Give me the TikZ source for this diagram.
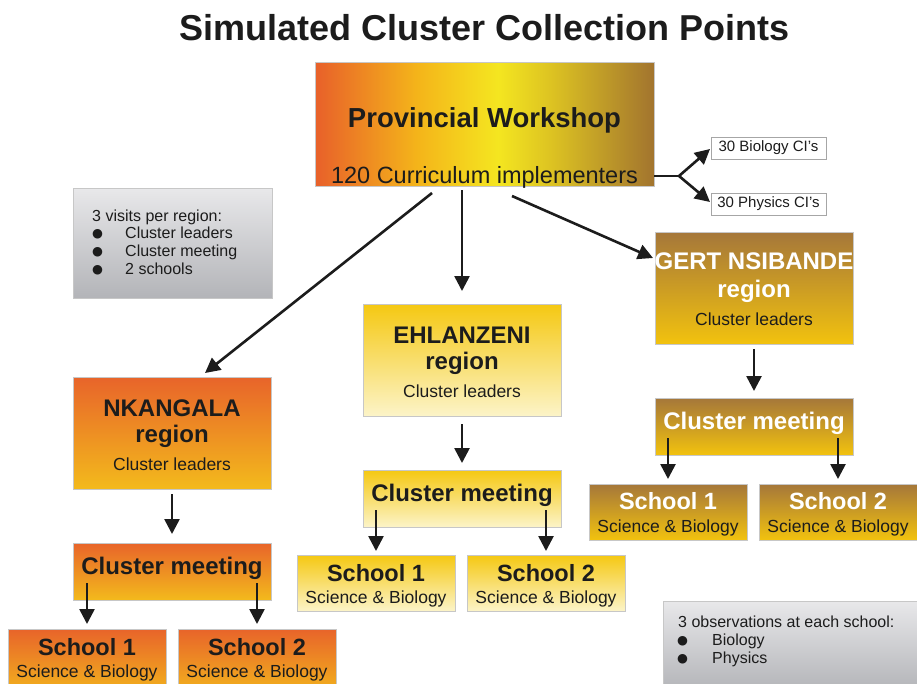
\documentclass[tikz,border=0pt]{standalone}
\usepackage{fontspec}
\setmainfont{Liberation Sans}
\newfontfamily\symfont{DejaVu Sans}
\usetikzlibrary{arrows.meta,calc}
\definecolor{txt}{HTML}{1C1C1C}
\definecolor{nkT}{HTML}{E8642A}
\definecolor{nkB}{HTML}{F3BA1C}
\definecolor{ehT}{HTML}{F5C812}
\definecolor{ehB}{HTML}{FCF4C8}
\definecolor{gnT}{HTML}{A5773A}
\definecolor{gnB}{HTML}{F2C20E}
\definecolor{grT}{HTML}{E8E8EA}
\definecolor{grB}{HTML}{B3B4B8}
\definecolor{provA}{HTML}{E8602A}
\definecolor{provB}{HTML}{F4B41A}
\definecolor{provC}{HTML}{F4E620}
\definecolor{provD}{HTML}{DCC222}
\definecolor{provE}{HTML}{A2742E}
\pgfdeclarehorizontalshading{provshade}{100bp}{color(0bp)=(provA); color(25bp)=(provA); color(40bp)=(provB); color(52bp)=(provC); color(60bp)=(provD); color(75bp)=(provE); color(100bp)=(provE)}
\newcommand{\bigbul}{\makebox[0pt][l]{\raisebox{0.8pt}{\symfont\fontsize{12.5}{14}\selectfont ●}}}
\begin{document}
\begin{tikzpicture}[x=1pt,y=-1pt,
  box/.style={draw=black!22, line width=0.5pt, anchor=north west, inner sep=0pt, outer sep=0pt},
  orangebox/.style={box, top color=nkT, bottom color=nkB},
  yellowbox/.style={box, top color=ehT, bottom color=ehB},
  brownbox/.style={box, top color=gnT, bottom color=gnB},
  greybox/.style={box, top color=grT, bottom color=grB},
  cibox/.style={box, fill=white, draw=black!35, minimum width=115pt, minimum height=22pt},
  regbox/.style={minimum width=198pt, minimum height=112pt},
  clbox/.style={minimum width=198pt, minimum height=57pt},
  schbox/.style={minimum width=158pt, minimum height=56pt},
  arr/.style={line width=2.6pt, draw=txt, -{Triangle[length=15pt,width=15pt]}},
  big/.style={anchor=base, text=txt, font=\fontsize{24}{28}\selectfont\bfseries},
  small/.style={anchor=base, text=txt, font=\fontsize{17.5}{20}\selectfont},
  sch/.style={anchor=base, text=txt, font=\fontsize{23.5}{26}\selectfont\bfseries},
  note/.style={anchor=base west, text=txt, inner sep=0pt, font=\fontsize{16}{18}\selectfont},
  ci/.style={text=txt, font=\fontsize{15}{17}\selectfont}
]
\useasboundingbox[fill=white] (0,0) rectangle (917,683);

% title
\node[anchor=base, text=txt, font=\fontsize{36}{40}\selectfont\bfseries] (title) at (484.5,40) {Simulated Cluster Collection Points};

% provincial workshop
\node[box, shading=provshade, minimum width=339pt, minimum height=124pt] (pw) at (315,62) {};
\node[anchor=base, text=txt, font=\fontsize{27.5}{30}\selectfont\bfseries] (pwt) at ($(pw.north)+(0,65)$) {Provincial Workshop};
\node[anchor=base, text=txt, font=\fontsize{23.5}{26}\selectfont] (pws) at ($(pw.north)+(0,121)$) {120 Curriculum implementers};

% CI boxes
\node[cibox] (bio) at (711,137) {};
\node[ci] at (bio.center) {30 Biology CI's};
\node[cibox] (phy) at (711,193) {};
\node[ci] at (phy.center) {30 Physics CI's};
\coordinate (br) at (679,176);
\draw[line width=2.6pt, draw=txt] (pw.east |- br) -- (br);
\draw[arr] (br) -- ($(bio.west)+(-1,1)$);
\draw[arr] (br) -- ($(phy.west)+(-1,-2)$);

% visits note
\node[greybox, minimum width=199pt, minimum height=110pt] (visits) at (73,188) {};
\node[note] at (92,221) {3 visits per region:};
\node[note] at (92,238) {\bigbul\hspace{33pt}Cluster leaders};
\node[note] at (92,256) {\bigbul\hspace{33pt}Cluster meeting};
\node[note] at (92,274) {\bigbul\hspace{33pt}2 schools};

% observations note
\node[greybox, minimum width=260pt, minimum height=90pt] (obs) at (663,601) {};
\node[note] at (678,627) {3 observations at each school:};
\node[note] at (677,645) {\bigbul\hspace{35pt}Biology};
\node[note] at (677,663) {\bigbul\hspace{35pt}Physics};

% NKANGALA column
\node[orangebox, regbox] (nk) at (73,377) {};
\node[big] at ($(nk.north)+(0,39)$) {NKANGALA};
\node[big] at ($(nk.north)+(0,65)$) {region};
\node[small] at ($(nk.north)+(0,93)$) {Cluster leaders};
\node[orangebox, clbox] (nkc) at (73,543) {};
\node[big] at ($(nkc.north)+(0,31)$) {Cluster meeting};
\node[orangebox, schbox, minimum height=70pt] (nks1) at (8,629) {};
\node[sch] at ($(nks1.north)+(0,26)$) {School 1};
\node[small] at ($(nks1.north)+(0,48)$) {Science \& Biology};
\node[orangebox, schbox, minimum height=70pt] (nks2) at (178,629) {};
\node[sch] at ($(nks2.north)+(0,26)$) {School 2};
\node[small] at ($(nks2.north)+(0,48)$) {Science \& Biology};
\draw[arr] ($(nk.south)+(0,5)$) -- ($(nkc.north)+(0,-9)$);
\draw[arr] ($(nks1.north |- nkc.center)+(0,11.5)$) -- ($(nks1.north)+(0,-5)$);
\draw[arr] ($(nks2.north |- nkc.center)+(0,11.5)$) -- ($(nks2.north)+(0,-5)$);

% EHLANZENI column
\node[yellowbox, regbox] (eh) at (363,304) {};
\node[big] at ($(eh.north)+(0,39)$) {EHLANZENI};
\node[big] at ($(eh.north)+(0,65)$) {region};
\node[small] at ($(eh.north)+(0,93)$) {Cluster leaders};
\node[yellowbox, clbox] (ehc) at (363,470) {};
\node[big] at ($(ehc.north)+(0,31)$) {Cluster meeting};
\node[yellowbox, schbox] (ehs1) at (297,555) {};
\node[sch] at ($(ehs1.north)+(0,26)$) {School 1};
\node[small] at ($(ehs1.north)+(0,48)$) {Science \& Biology};
\node[yellowbox, schbox] (ehs2) at (467,555) {};
\node[sch] at ($(ehs2.north)+(0,26)$) {School 2};
\node[small] at ($(ehs2.north)+(0,48)$) {Science \& Biology};
\draw[arr] ($(eh.south)+(0,8)$) -- ($(ehc.north)+(0,-7)$);
\draw[arr] ($(ehs1.north |- ehc.center)+(0,11.5)$) -- ($(ehs1.north)+(0,-4)$);
\draw[arr] ($(ehs2.north |- ehc.center)+(0,11.5)$) -- ($(ehs2.north)+(0,-4)$);

% GERT NSIBANDE column
\node[brownbox, regbox] (gn) at (655,232) {};
\node[big, text=white] at ($(gn.north)+(0,37)$) {GERT NSIBANDE};
\node[big, text=white] at ($(gn.north)+(0,65)$) {region};
\node[small] at ($(gn.north)+(0,93)$) {Cluster leaders};
\node[brownbox, clbox] (gnc) at (655,398) {};
\node[big, text=white] at ($(gnc.north)+(0,31)$) {Cluster meeting};
\node[brownbox, schbox] (gns1) at (589,484) {};
\node[sch, text=white] at ($(gns1.north)+(0,25)$) {School 1};
\node[small] at ($(gns1.north)+(0,48)$) {Science \& Biology};
\node[brownbox, schbox] (gns2) at (759,484) {};
\node[sch, text=white] at ($(gns2.north)+(0,25)$) {School 2};
\node[small] at ($(gns2.north)+(0,48)$) {Science \& Biology};
\draw[arr] ($(gn.south)+(0,5)$) -- ($(gnc.north)+(0,-7)$);
\draw[arr] ($(gns1.north |- gnc.center)+(0,11.5)$) -- ($(gns1.north)+(0,-5)$);
\draw[arr] ($(gns2.north |- gnc.center)+(0,11.5)$) -- ($(gns2.north)+(0,-5)$);

% arrows from provincial workshop
\draw[arr] ($(pw.south)+(-52.5,7)$) -- ($(nk.north)+(33,-4)$);
\draw[arr] ($(pw.south)+(-22.5,4)$) -- ($(eh.north)+(0,-13)$);
\draw[arr] ($(pw.south)+(27.5,10)$) -- ($(gn.north west)+(-2,26)$);
\end{tikzpicture}
\end{document}
